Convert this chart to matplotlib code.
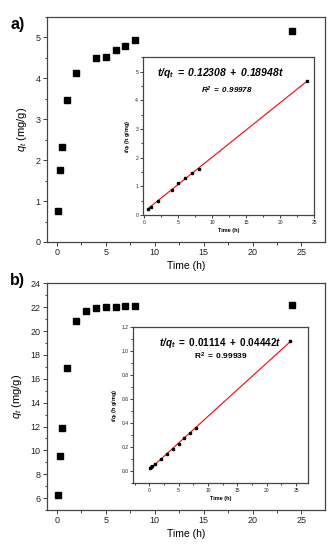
import matplotlib
matplotlib.use('Agg')
import matplotlib.pyplot as plt
from matplotlib.ticker import MultipleLocator

plt.rcParams['font.family'] = ['Liberation Sans', 'DejaVu Sans']
plt.rcParams['mathtext.fontset'] = 'custom'
plt.rcParams['mathtext.rm'] = 'Liberation Sans'
plt.rcParams['mathtext.it'] = 'Liberation Sans:italic'
plt.rcParams['mathtext.bf'] = 'Liberation Sans:bold'
plt.rcParams['mathtext.bfit'] = 'Liberation Sans:bold:italic'

# panel a) data
t_a = [0.17, 0.33, 0.5, 1, 2, 4, 5, 6, 7, 8, 24]
q_a = [0.75, 1.75, 2.33, 3.47, 4.13, 4.50, 4.53, 4.70, 4.80, 4.93, 5.15]
t_a_ins = [0.5, 1, 2, 4, 5, 6, 7, 8, 24]
tq_a = [0.21, 0.29, 0.48, 0.89, 1.10, 1.28, 1.46, 1.62, 4.66]
fit_a = (0.12308, 0.18948)

# panel b) data
t_b = [0.17, 0.33, 0.5, 1, 2, 3, 4, 5, 6, 7, 8, 24]
q_b = [6.3, 9.5, 11.85, 16.9, 20.85, 21.7, 21.95, 22.0, 22.0, 22.1, 22.1, 22.2]
t_b_ins = [0.17, 0.33, 0.5, 1, 2, 3, 4, 5, 6, 7, 8, 24]
tq_b = [0.027, 0.035, 0.042, 0.059, 0.096, 0.138, 0.182, 0.227, 0.273, 0.317, 0.362, 1.081]
fit_b = (0.01114, 0.04442)

fig = plt.figure(figsize=(3.36, 5.5), dpi=100)

spine_col = '#444444'


def style_axes(ax, size, tick_len, minor_len, lw):
    for s in ax.spines.values():
        s.set_color(spine_col)
        s.set_linewidth(lw)
    ax.tick_params(which='both', direction='out', top=False, right=False,
                   colors=spine_col, labelcolor='#222222', width=lw * 0.8)
    ax.tick_params(which='major', length=tick_len, labelsize=size, pad=1.5)
    ax.tick_params(which='minor', length=minor_len)


def main_panel(rect, t, q, ylim, ystep, label, label_y):
    ax = fig.add_axes(rect)
    ax.plot(t, q, 's', color='black', ms=4.6, mec='black')
    ax.set_xlim(-1, 27.4)
    ax.set_ylim(*ylim)
    ax.xaxis.set_major_locator(MultipleLocator(5))
    ax.xaxis.set_minor_locator(MultipleLocator(2.5))
    ax.yaxis.set_major_locator(MultipleLocator(ystep))
    ax.yaxis.set_minor_locator(MultipleLocator(ystep / 2))
    style_axes(ax, 6.5, 3, 1.8, 0.9)
    ax.set_xlabel('Time (h)', fontsize=7.5, labelpad=3)
    ax.set_ylabel(r'$q_t$ (mg/g)', fontsize=8, labelpad=5)
    fig.text(0.03, label_y, label, fontsize=11.5, fontweight='bold', va='center')
    return ax


def inset(rect, t, tq, fit, xlim, ylim, ystep, eq, r2, eq_pos, r2_pos, eq_size, r2_size):
    ax = fig.add_axes(rect)
    tt = [min(t), max(t)]
    ax.plot(tt, [fit[0] + fit[1] * v for v in tt], color='red', lw=0.8)
    ax.plot(t, tq, 's', color='black', ms=2.0)
    ax.set_xlim(*xlim)
    ax.set_ylim(*ylim)
    ax.xaxis.set_major_locator(MultipleLocator(5))
    ax.xaxis.set_minor_locator(MultipleLocator(2.5))
    ax.yaxis.set_major_locator(MultipleLocator(ystep))
    ax.yaxis.set_minor_locator(MultipleLocator(ystep / 2))
    style_axes(ax, 3.6, 2, 1.2, 0.9)
    if ystep < 1:
        ax.yaxis.set_major_formatter(plt.FormatStrFormatter('%.1f'))
    ax.set_xlabel('Time (h)', fontsize=4, fontweight='bold', labelpad=2)
    ax.set_ylabel(r'$\mathbfit{t/q_t}$ (h g/mg)', fontsize=4, fontweight='bold', labelpad=2)
    ax.text(*eq_pos, eq, transform=ax.transAxes, ha='center', va='center', fontsize=eq_size)
    ax.text(*r2_pos, r2, transform=ax.transAxes, ha='center', va='center', fontsize=r2_size)
    return ax


main_panel([0.140, 0.560, 0.827, 0.409], t_a, q_a, (0, 5.5), 1, 'a)', 0.955)
inset([0.4256, 0.609, 0.509, 0.287], t_a_ins, tq_a, fit_a, (-0.2, 25), (0, 5.5), 1,
      r'$\mathbfit{t/q_t\ =\ 0.12308\ +\ 0.18948t}$', r'$\mathbfit{R^2\ =\ 0.99978}$',
      (0.45, 0.90), (0.49, 0.79), 7.5, 5.8)

main_panel([0.140, 0.0727, 0.827, 0.412], t_b, q_b, (5, 24), 2, 'b)', 0.49)
inset([0.397, 0.1218, 0.519, 0.2836], t_b_ins, tq_b, fit_b, (-2.7, 27), (-0.1, 1.2), 0.2,
      r'$\mathbfit{t/q_t}\mathbf{\ =\ 0.01114\ +\ 0.04442}\mathbfit{t}$', r'$\mathbf{R^2\ =\ 0.99939}$',
      (0.50, 0.90), (0.50, 0.81), 7.2, 6)

fig.savefig('out.png', dpi=100)
